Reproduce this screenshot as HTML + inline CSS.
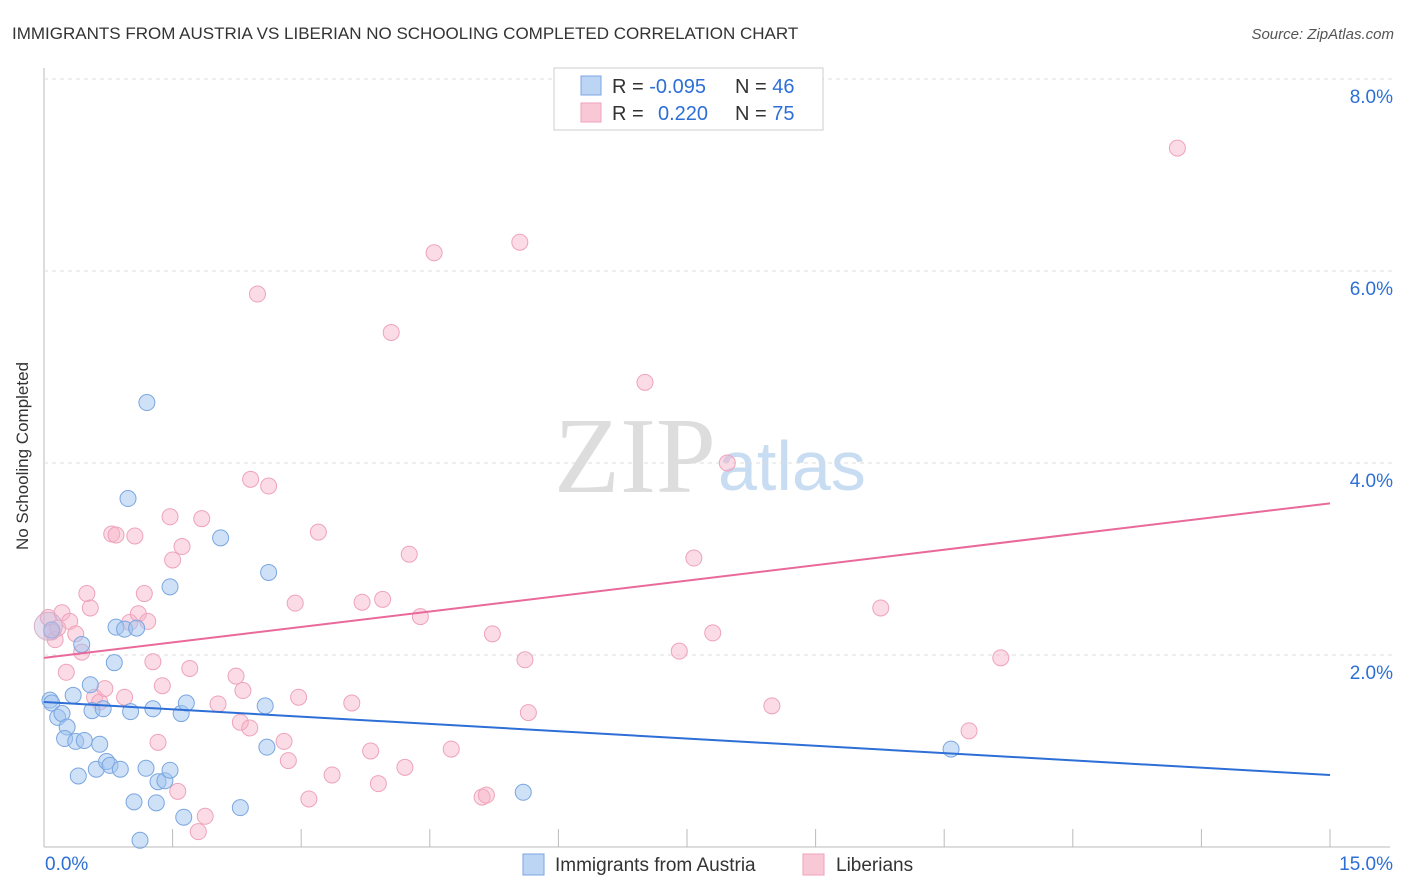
<!DOCTYPE html>
<html><head><meta charset="utf-8"><style>
body{margin:0;background:#fff;font-family:"Liberation Sans",sans-serif;}
#wrap{position:relative;width:1406px;height:892px;overflow:hidden}
</style></head><body>
<div id="wrap">
<svg id="chart" width="1406" height="892">
<text x="12" y="39" font-size="17" fill="#333">IMMIGRANTS FROM AUSTRIA VS LIBERIAN NO SCHOOLING COMPLETED CORRELATION CHART</text>
<text x="1394" y="39" font-size="15" fill="#555" font-style="italic" text-anchor="end">Source: ZipAtlas.com</text>
<text x="716" y="492" font-size="108" fill="#ddd" text-anchor="end" font-family="Liberation Serif,serif">ZIP</text>
<text x="718" y="490" font-size="70" fill="#c8dcf2">atlas</text>
<text x="28" y="456" font-size="17" fill="#333" text-anchor="middle" transform="rotate(-90 28 456)">No Schooling Completed</text>
<g id="grid"></g><g id="marks"></g>
<rect x="554" y="68" width="269" height="62" fill="#fff" stroke="#ccc"/>
<rect x="581" y="76" width="20" height="19" fill="#bcd5f5" stroke="#7aa6e0"/>
<rect x="581" y="103" width="20" height="19" fill="#f9c8d6" stroke="#eea3ba"/>
<text x="612" y="93" font-size="20" fill="#333">R = <tspan fill="#2d6fd6">-0.095</tspan><tspan x="735">N = </tspan><tspan fill="#2d6fd6">46</tspan></text>
<text x="612" y="120" font-size="20" fill="#333">R = <tspan x="658" fill="#2d6fd6">0.220</tspan><tspan x="735">N = </tspan><tspan fill="#2d6fd6">75</tspan></text>
<rect x="523" y="854" width="21" height="21" fill="#bcd5f5" stroke="#7aa6e0"/>
<text x="555" y="871" font-size="19" fill="#333">Immigrants from Austria</text>
<rect x="803" y="854" width="21" height="21" fill="#f9c8d6" stroke="#eea3ba"/>
<text x="836" y="871" font-size="19" fill="#333">Liberians</text>
</svg>
</div>
<script>
const xTicksLabels=["0.0%","15.0%"];
const yTicks=[2,4,6,8];
const blueX=[0.07,0.09,0.16,0.21,0.27,0.24,0.34,0.37,0.40,0.47,0.44,0.54,0.56,0.61,0.65,0.69,0.73,0.77,0.82,0.84,0.89,0.94,0.98,1.01,1.08,1.05,1.12,1.19,1.20,1.27,1.31,1.33,1.41,1.47,1.47,1.60,1.63,1.66,2.06,2.29,2.58,2.60,2.62,5.59,10.58,0.09];
const blueY=[1.53,1.50,1.35,1.39,1.25,1.13,1.58,1.10,0.74,1.11,2.11,1.69,1.42,0.81,1.07,1.44,0.89,0.85,1.92,2.29,0.81,2.27,3.63,1.41,2.28,0.47,0.07,0.82,4.63,1.44,0.46,0.68,0.69,0.80,2.71,1.39,0.31,1.50,3.22,0.41,1.47,1.04,2.86,0.57,1.02,2.26];
const pinkX=[0.05,0.09,0.13,0.16,0.21,0.26,0.30,0.37,0.44,0.50,0.54,0.59,0.65,0.71,0.79,0.84,0.94,1.00,1.06,1.10,1.17,1.21,1.27,1.33,1.38,1.47,1.50,1.56,1.61,1.70,1.80,1.84,1.88,2.03,2.24,2.29,2.32,2.40,2.41,2.49,2.62,2.80,2.85,2.93,2.97,3.09,3.20,3.36,3.59,3.71,3.81,3.90,3.95,4.05,4.21,4.26,4.39,4.55,4.75,5.11,5.16,5.23,5.55,5.61,5.65,7.01,7.41,7.58,7.80,7.97,8.49,9.76,10.79,11.16,13.22];
const pinkY=[2.39,2.24,2.16,2.28,2.44,1.82,2.35,2.22,2.03,2.64,2.49,1.56,1.51,1.65,3.26,3.25,1.56,2.34,3.24,2.43,2.64,2.35,1.93,1.09,1.68,3.44,2.99,0.58,3.13,1.86,0.16,3.42,0.32,1.49,1.78,1.30,1.63,1.24,3.83,5.76,3.76,1.10,0.90,2.54,1.56,0.50,3.28,0.75,1.50,2.55,1.00,0.66,2.58,5.36,0.83,3.05,2.40,6.19,1.02,0.52,0.54,2.22,6.30,1.95,1.40,4.84,2.04,3.01,2.23,4.00,1.47,2.49,1.21,1.97,7.28];
const blueTrend=[1.51,0.75];
const pinkTrend=[1.97,3.58];
const X0=44,X1=1330,Y0=847,PX=96;
const sx=v=>X0+v/15*(X1-X0), sy=v=>Y0-v*PX;
const NS="http://www.w3.org/2000/svg";
const grid=document.getElementById('grid'), marks=document.getElementById('marks');
function mk(tag,at,parent){const e=document.createElementNS(NS,tag);for(const k in at)e.setAttribute(k,at[k]);parent.appendChild(e);return e;}
let e=mk('line',{x1:X0,x2:X0,y1:68,y2:Y0,stroke:'#bbb'},grid);


e=mk('line',{x1:X0,x2:X1+60,y1:Y0,y2:Y0,stroke:'#bbb'},grid);


yTicks.forEach(t=>{
 let g=mk('line',{x1:X0,x2:1394,y1:sy(t),y2:sy(t),stroke:'#ddd','stroke-dasharray':'4,4'},grid);
 
 
 let l=mk('text',{x:1393,y:sy(t)+24,'font-size':19,fill:'#2d6fd6','text-anchor':'end'},grid);l.textContent=t.toFixed(1)+'%';
 
 
});
for(let i=0;i<=10;i++){
 let t=mk('line',{x1:sx(i*1.5),x2:sx(i*1.5),y1:829,y2:Y0,stroke:'#bbb'},grid);
 
 
}
[[0,'start',45],[15,'end',1393]].forEach((a,i)=>{
 let l=mk('text',{x:a[2],y:870,'font-size':19,fill:'#2d6fd6','text-anchor':a[1]},grid);l.textContent=xTicksLabels[i];
 
 
});
function pts(xs,ys,fill,stroke,name){
 xs.forEach((x,i)=>{
  let c=mk('circle',{cx:sx(x),cy:sy(ys[i]),r:8,fill:fill,stroke:stroke,'stroke-width':1},marks);
  
  
 });
}
pts(pinkX,pinkY,'rgba(246,178,200,0.45)','#eea3ba','liberian-point');
pts(blueX,blueY,'rgba(160,196,240,0.5)','#7aa6e0','austria-point');
let big=mk('circle',{cx:sx(0.05),cy:sy(2.3),r:14,fill:'rgba(200,185,220,0.45)',stroke:'#d8b0c8'},marks);


let bl=mk('line',{x1:X0,x2:X1,y1:sy(blueTrend[0]),y2:sy(blueTrend[1]),stroke:'#2d6fd6','stroke-width':2},marks);


let pl=mk('line',{x1:X0,x2:X1,y1:sy(pinkTrend[0]),y2:sy(pinkTrend[1]),stroke:'#e8699a','stroke-width':2},marks);


</script>
</body></html>
